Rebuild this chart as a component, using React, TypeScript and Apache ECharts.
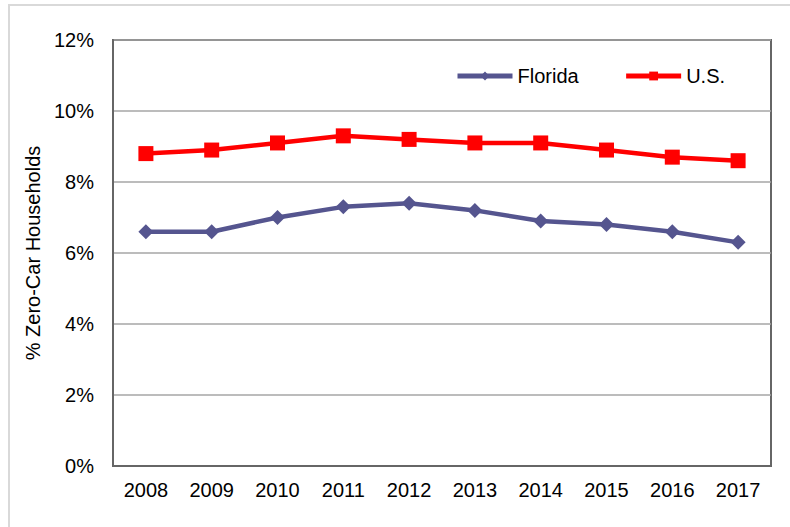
import React, { useEffect, useRef } from "react";
import * as echarts from "echarts";

const years = ["2008", "2009", "2010", "2011", "2012", "2013", "2014", "2015", "2016", "2017"];
const florida = [6.6, 6.6, 7.0, 7.3, 7.4, 7.2, 6.9, 6.8, 6.6, 6.3];
const us = [8.8, 8.9, 9.1, 9.3, 9.2, 9.1, 9.1, 8.9, 8.7, 8.6];

export default function App() {
  const ref = useRef<HTMLDivElement>(null);
  useEffect(() => {
    document.body.style.margin = "0";
    const chart = echarts.init(ref.current!, null, { renderer: "svg" });
    const font = "Liberation Sans, Arial, sans-serif";
    chart.setOption({
      animation: false,
      backgroundColor: "#ffffff",
      textStyle: { fontFamily: font },
      graphic: [
        {
          type: "rect",
          shape: { x: 9, y: 5, width: 820, height: 560 },
          style: { fill: "none", stroke: "#d9d9d9", lineWidth: 2 },
          silent: true,
        },
      ],
      grid: {
        left: 113,
        top: 40,
        right: 19,
        bottom: 61,
        show: true,
        borderColor: "#666666",
        borderWidth: 2,
        backgroundColor: "transparent",
      },
      legend: {
        left: 455,
        top: 66,
        padding: 0,
        itemWidth: 55,
        itemHeight: 11,
        itemGap: 45,
        lineStyle: { width: 5 },
        textStyle: { fontSize: 20, color: "#000", fontFamily: font },
        data: ["Florida", "U.S."],
      },
      xAxis: {
        type: "category",
        data: years,
        boundaryGap: true,
        axisLine: { lineStyle: { color: "#666666", width: 2 } },
        axisTick: { inside: true, length: 5, lineStyle: { color: "#666666", width: 2 } },
        axisLabel: { fontSize: 20, color: "#000", margin: 14, fontFamily: font },
      },
      yAxis: {
        type: "value",
        min: 0,
        max: 12,
        interval: 2,
        name: "% Zero-Car Households",
        nameLocation: "middle",
        nameGap: 70,
        nameTextStyle: { fontSize: 20, color: "#000", fontFamily: font },
        axisLine: { show: true, lineStyle: { color: "#666666", width: 2 } },
        axisTick: { show: false },
        axisLabel: { formatter: "{value}%", fontSize: 20, color: "#000", margin: 19, fontFamily: font },
        splitLine: { lineStyle: { color: "#a6a6a6", width: 1.5 } },
      },
      series: [
        {
          name: "Florida",
          type: "line",
          data: florida,
          symbol: "diamond",
          symbolSize: 15,
          itemStyle: { color: "#55558f" },
          lineStyle: { color: "#55558f", width: 4.5 },
        },
        {
          name: "U.S.",
          type: "line",
          data: us,
          symbol: "rect",
          symbolSize: 15,
          itemStyle: { color: "#ff0000" },
          lineStyle: { color: "#ff0000", width: 4.5 },
        },
      ],
    });
    return () => chart.dispose();
  }, []);
  return <div ref={ref} style={{ width: 790, height: 527 }} />;
}
